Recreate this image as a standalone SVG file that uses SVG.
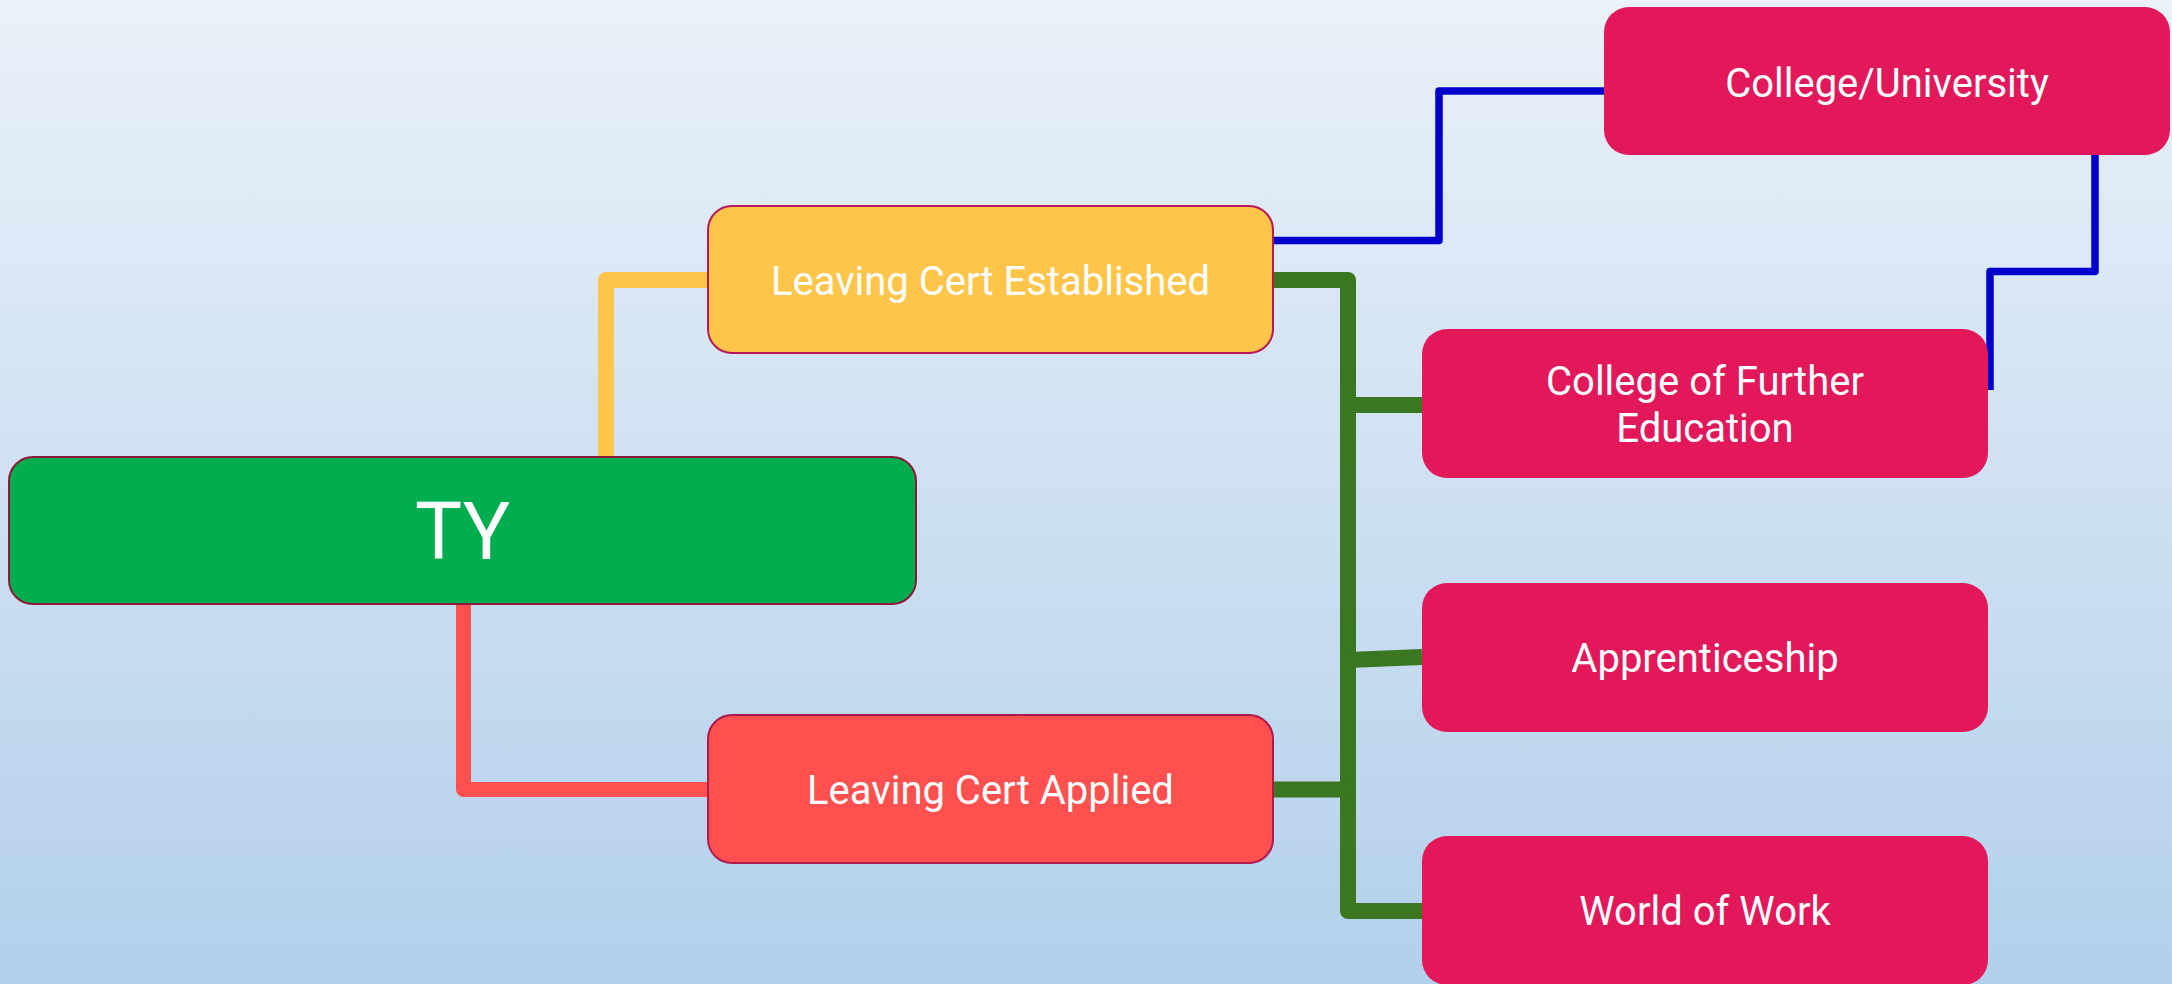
<svg xmlns="http://www.w3.org/2000/svg" width="2172" height="984" viewBox="0 0 2172 984">
<defs>
<linearGradient id="bg" x1="0" y1="0" x2="0" y2="1">
<stop offset="0" stop-color="#EAF1F9"/>
<stop offset="1" stop-color="#B2D0EB"/>
</linearGradient>
</defs>
<style>
.lbl{font-family:Roboto,"Liberation Sans",sans-serif;fill:#FFFFFF;text-anchor:middle;font-size:40px}
.conn{fill:none;stroke-linejoin:round}
.pink{fill:#E2185B}
</style>
<rect x="0" y="0" width="2172" height="984" fill="url(#bg)"/>
<g id="connectors">
<path class="conn" d="M606,458 V280 H708" stroke="#FFC54A" stroke-width="16"/>
<path class="conn" d="M463.5,604 V789.5 H708" stroke="#FF5050" stroke-width="15"/>
<path class="conn" d="M1273,280 H1348 V405 H1422" stroke="#3B7720" stroke-width="16"/>
<path class="conn" d="M1348,400 V911 H1422" stroke="#3B7720" stroke-width="16"/>
<path class="conn" d="M1273,789.5 H1348" stroke="#3B7720" stroke-width="16"/>
<path class="conn" d="M1348,660 L1422,657" stroke="#3B7720" stroke-width="16"/>
<path class="conn" d="M1273,240.5 H1439 V91 H1604" stroke="#0000CC" stroke-width="7.5"/>
<path class="conn" d="M2095,152 V271.5 H1990 V390" stroke="#0000CC" stroke-width="7.5"/>
</g>
<g id="node-ty">
<rect x="9" y="457" width="907" height="147" rx="24" fill="#00AE4F" stroke="#8B1A3A" stroke-width="2"/>
<text class="lbl" x="462.5" y="559" style="font-size:79px">TY</text>
</g>
<g id="node-lce">
<rect x="708" y="206" width="565" height="147" rx="24" fill="#FFC54A" stroke="#B8185A" stroke-width="2"/>
<text class="lbl" x="990.5" y="295">Leaving Cert Established</text>
</g>
<g id="node-lca">
<rect x="708" y="715" width="565" height="148" rx="24" fill="#FF5050" stroke="#B0194F" stroke-width="2"/>
<text class="lbl" x="990.5" y="804">Leaving Cert Applied</text>
</g>
<g id="node-college-university">
<rect class="pink" x="1604" y="7" width="566" height="148" rx="25"/>
<text class="lbl" x="1887" y="97">College/University</text>
</g>
<g id="node-cfe">
<rect class="pink" x="1422" y="329" width="566" height="149" rx="25"/>
<text class="lbl" x="1705" y="395">College of Further</text>
<text class="lbl" x="1705" y="442">Education</text>
</g>
<g id="node-apprenticeship">
<rect class="pink" x="1422" y="583" width="566" height="149" rx="25"/>
<text class="lbl" x="1705" y="672">Apprenticeship</text>
</g>
<g id="node-world-of-work">
<rect class="pink" x="1422" y="836" width="566" height="149" rx="25"/>
<text class="lbl" x="1705" y="925">World of Work</text>
</g>
</svg>
